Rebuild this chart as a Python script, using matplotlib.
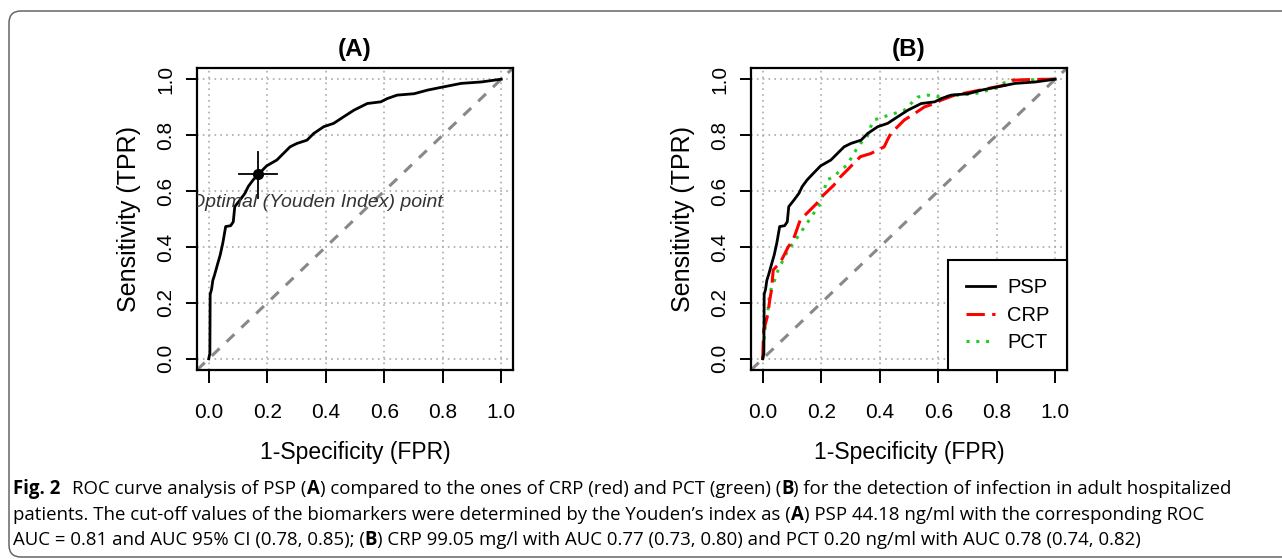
import matplotlib
matplotlib.use("Agg")
import matplotlib.pyplot as plt
from matplotlib.patches import FancyBboxPatch
from matplotlib.transforms import IdentityTransform

# ROC points (FPR, TPR)
psp_fpr = [0.0, 0.004, 0.005, 0.010, 0.014, 0.020, 0.032, 0.039, 0.048, 0.058, 0.075, 0.084,
           0.089, 0.107, 0.124, 0.135, 0.152, 0.170, 0.198, 0.233, 0.255, 0.278, 0.301, 0.336,
           0.359, 0.393, 0.427, 0.462, 0.496, 0.542, 0.588, 0.611, 0.644, 0.702, 0.748, 0.805,
           0.863, 0.931, 1.0]
psp_tpr = [0.0, 0.02, 0.23, 0.25, 0.28, 0.30, 0.345, 0.37, 0.413, 0.473, 0.476, 0.49,
           0.544, 0.568, 0.592, 0.616, 0.640, 0.660, 0.690, 0.711, 0.734, 0.758, 0.770, 0.782,
           0.806, 0.830, 0.842, 0.866, 0.889, 0.913, 0.919, 0.931, 0.943, 0.948, 0.961, 0.973,
           0.985, 0.990, 1.0]

crp_fpr = [0.0, 0.003, 0.013, 0.018, 0.024, 0.030, 0.036, 0.047, 0.059, 0.076, 0.087, 0.104,
           0.116, 0.128, 0.139, 0.162, 0.185, 0.202, 0.220, 0.243, 0.266, 0.289, 0.311, 0.334,
           0.369, 0.392, 0.415, 0.426, 0.438, 0.461, 0.484, 0.519, 0.553, 0.588, 0.610, 0.656,
           0.714, 0.771, 0.829, 0.852, 0.921, 1.0]
crp_tpr = [0.0, 0.10, 0.14, 0.163, 0.21, 0.246, 0.318, 0.330, 0.342, 0.377, 0.400, 0.425,
           0.460, 0.496, 0.508, 0.532, 0.556, 0.580, 0.598, 0.621, 0.651, 0.675, 0.699, 0.723,
           0.734, 0.746, 0.758, 0.782, 0.806, 0.830, 0.854, 0.877, 0.901, 0.913, 0.925, 0.943,
           0.955, 0.967, 0.979, 0.996, 0.999, 1.0]

pct_fpr = [0.0, 0.007, 0.018, 0.024, 0.036, 0.041, 0.053, 0.070, 0.087, 0.104, 0.128, 0.151,
           0.174, 0.197, 0.220, 0.243, 0.266, 0.289, 0.311, 0.334, 0.357, 0.369, 0.380, 0.415,
           0.449, 0.484, 0.507, 0.530, 0.564, 0.610, 0.668, 0.725, 0.794, 0.840, 1.0]
pct_tpr = [0.0, 0.10, 0.175, 0.235, 0.27, 0.282, 0.318, 0.354, 0.390, 0.413, 0.449, 0.484,
           0.520, 0.556, 0.640, 0.651, 0.675, 0.693, 0.734, 0.770, 0.794, 0.830, 0.854, 0.866,
           0.877, 0.889, 0.913, 0.936, 0.943, 0.936, 0.943, 0.948, 0.967, 0.996, 1.0]

youden_fpr, youden_tpr = 0.17, 0.661
youden_fpr_ci = (0.104, 0.233)
youden_tpr_ci = (0.575, 0.740)

ticks = [0.0, 0.2, 0.4, 0.6, 0.8, 1.0]
tick_labels = ["0.0", "0.2", "0.4", "0.6", "0.8", "1.0"]

caption = [
    [("Fig. 2", True), ("ROC curve analysis of PSP (", False), ("A", True),
     (") compared to the ones of CRP (red) and PCT (green) (", False), ("B", True),
     (") for the detection of infection in adult hospitalized", False)],
    [("patients. The cut-off values of the biomarkers were determined by the Youden\u2019s index as (", False),
     ("A", True), (") PSP 44.18 ng/ml with the corresponding ROC", False)],
    [("AUC = 0.81 and AUC 95% CI (0.78, 0.85); (", False), ("B", True),
     (") CRP 99.05 mg/l with AUC 0.77 (0.73, 0.80) and PCT 0.20 ng/ml with AUC 0.78 (0.74, 0.82)", False)],
]

plt.rcParams["font.family"] = ["Liberation Sans", "DejaVu Sans"]

W, H = 1282, 559
fig = plt.figure(figsize=(W / 100, H / 100), dpi=100)

# outer rounded frame
fig.patches.append(FancyBboxPatch((9, 2), 1300, 546, boxstyle="round,pad=0,rounding_size=12",
                                  transform=IdentityTransform(), fill=False,
                                  edgecolor="#666666", linewidth=1.1))


def setup(ax, title):
    ax.set_xlim(-0.04, 1.04)
    ax.set_ylim(-0.04, 1.04)
    ax.set_xticks(ticks)
    ax.set_yticks(ticks)
    ax.set_xticklabels(tick_labels, fontsize=15)
    ax.set_yticklabels(tick_labels, rotation=90, va="center", fontsize=15)
    ax.tick_params(axis="both", direction="out", width=1.4, color="black")
    ax.tick_params(axis="x", length=9.4, pad=14.5)
    ax.tick_params(axis="y", length=7.7, pad=8.2)
    ax.grid(True, linestyle=(0, (1, 2.5)), color="#aaaaaa", linewidth=1.2)
    ax.set_axisbelow(True)
    for s in ax.spines.values():
        s.set_linewidth(1.6)
    ax.plot([-0.04, 1.04], [-0.04, 1.04], color="#888888", linewidth=2.2,
            linestyle=(0, (3.5, 3.2)), zorder=2)
    ax.set_xlabel("1-Specificity (FPR)", fontsize=16.5)
    ax.set_ylabel("Sensitivity (TPR)", fontsize=18)
    ax.xaxis.set_label_coords(0.5, -0.236)
    ax.yaxis.set_label_coords(-0.176, 0.5)
    ax.set_title(title, fontsize=17.5, fontweight="bold", pad=8.5)


axA = fig.add_axes([197 / W, 1 - 370 / H, 316 / W, 302 / H])
setup(axA, "(A)")
axA.plot(psp_fpr, psp_tpr, color="black", linewidth=2, zorder=3)
axA.plot([youden_fpr_ci[0], youden_fpr_ci[1]], [youden_tpr, youden_tpr], color="black", linewidth=1.3, zorder=4)
axA.plot([youden_fpr, youden_fpr], [youden_tpr_ci[0], youden_tpr_ci[1]], color="black", linewidth=1.3, zorder=4)
axA.plot([youden_fpr], [youden_tpr], "o", color="black", markersize=7, zorder=5)
axA.text(0.367, 0.56, "Optimal (Youden Index) point", fontsize=14, style="italic",
         color="#333333", ha="center", va="center", clip_on=True, zorder=4)

axB = fig.add_axes([751 / W, 1 - 370 / H, 316 / W, 302 / H])
setup(axB, "(B)")
axB.plot(psp_fpr, psp_tpr, color="black", linewidth=2, zorder=5, label="PSP")
axB.plot(crp_fpr, crp_tpr, color="#ff0000", linewidth=2.2, linestyle=(0, (6, 2.4)), zorder=4, label="CRP")
axB.plot(pct_fpr, pct_tpr, color="#22cc22", linewidth=2.2, linestyle=(0, (1, 2.2)), zorder=3, label="PCT")
leg = axB.legend(loc="lower right", borderaxespad=0, fontsize=14.5, handlelength=1.45,
                 handletextpad=0.6, labelspacing=0.43, borderpad=0.88, fancybox=False,
                 framealpha=1, edgecolor="black")
leg.get_frame().set_linewidth(1.5)

# caption with bold runs, size fitted so the first line reaches the measured right end
fig.canvas.draw()
renderer = fig.canvas.get_renderer()
cap_font = ["Open Sans", "DejaVu Sans"]
probe = [fig.text(0, 0, s, fontsize=10, family=cap_font, fontweight="bold" if b else "normal")
         for s, b in caption[0]]
w10 = sum(t.get_window_extent(renderer).width for t in probe) + 9
for t in probe:
    t.remove()
cap_size = 10 * (1233 - 13) / w10

baselines = [494, 520, 545]
for line, yb in zip(caption, baselines):
    x = 13
    for s, bold in line:
        t = fig.text(x / W, 1 - yb / H, s, fontsize=cap_size, family=cap_font,
                     fontweight="bold" if bold else "normal", va="baseline", ha="left")
        x += t.get_window_extent(renderer).width
        if s == "Fig. 2":
            x += 9 * cap_size / 10

fig.savefig("out.png", dpi=100)
